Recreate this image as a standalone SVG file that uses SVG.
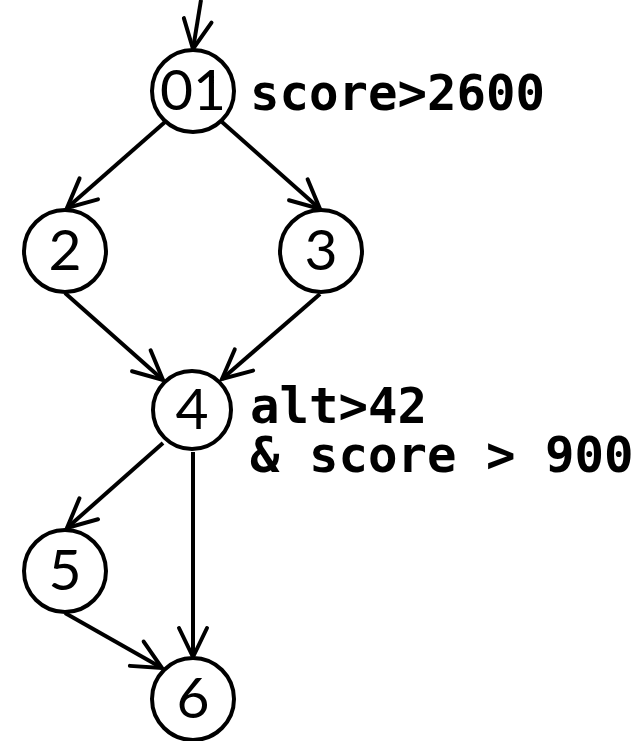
<svg xmlns="http://www.w3.org/2000/svg" width="642" height="741" viewBox="0 0 642 741">
  <defs>
    <marker id="arrow" markerUnits="userSpaceOnUse" markerWidth="40" markerHeight="40" viewBox="-32 -20 40 40" refX="0" refY="0" orient="auto">
      <path d="M-29,-14 L0,0 L-29,14" fill="none" stroke="#000" stroke-width="4" stroke-linecap="round" stroke-linejoin="miter"/>
    </marker>
    <style>
      .node circle { fill: #fff; stroke: #000; stroke-width: 4; }
      .node text { font-family: Lato, "Open Sans", "Liberation Sans", sans-serif; font-size: 57px; text-anchor: middle; fill: #000; }
      .edges line { stroke: #000; stroke-width: 4; fill: none; marker-end: url(#arrow); }
      .cond { font-family: "DejaVu Sans Mono", "Liberation Mono", monospace; font-weight: bold; font-size: 49px; fill: #000; }
    </style>
  </defs>

  <!-- connectors -->
  <g id="edges" class="edges">
    <line x1="201" y1="0" x2="193" y2="49"/>
    <line x1="165" y1="122" x2="67" y2="208"/>
    <line x1="222" y1="122" x2="320" y2="209"/>
    <line x1="65" y1="293" x2="163" y2="380"/>
    <line x1="320" y1="294" x2="222" y2="379"/>
    <line x1="163" y1="443" x2="67" y2="528"/>
    <line x1="193" y1="452" x2="193" y2="657"/>
    <line x1="65" y1="613" x2="162" y2="668"/>
  </g>

  <!-- nodes -->
  <g id="node-01" class="node">
    <circle cx="193" cy="91" r="41"/>
    <text x="193" y="110">01</text>
  </g>
  <g id="node-2" class="node">
    <circle cx="65" cy="251" r="41"/>
    <text x="65" y="270">2</text>
  </g>
  <g id="node-3" class="node">
    <circle cx="321" cy="251" r="41"/>
    <text x="321" y="270">3</text>
  </g>
  <g id="node-4" class="node">
    <circle cx="192" cy="410" r="39"/>
    <text x="192" y="429">4</text>
  </g>
  <g id="node-5" class="node">
    <circle cx="65" cy="571" r="41"/>
    <text x="65" y="590">5</text>
  </g>
  <g id="node-6" class="node">
    <circle cx="193" cy="699" r="41"/>
    <text x="193" y="718">6</text>
  </g>

  <!-- branch conditions -->
  <g id="conditions">
    <text class="cond" x="250" y="110">score&gt;2600</text>
    <text class="cond" x="250" y="423">alt&gt;42</text>
    <text class="cond" x="250" y="472">&amp; score &gt; 900</text>
  </g>
</svg>
